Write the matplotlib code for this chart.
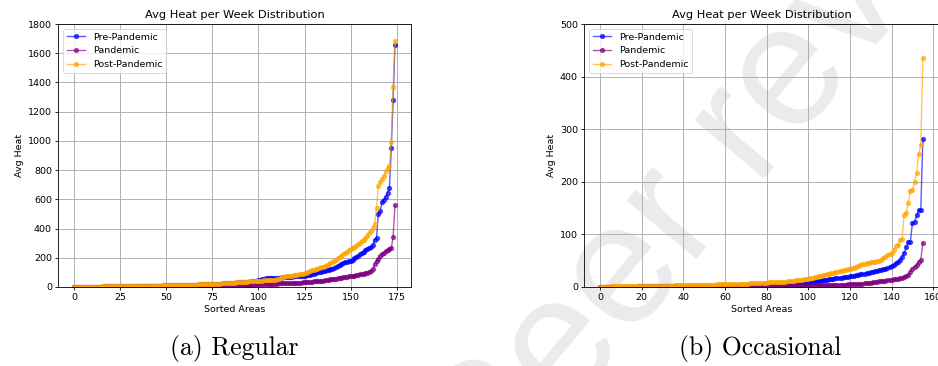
import matplotlib
matplotlib.use("Agg")
import matplotlib.pyplot as plt
import numpy as np

# ---------------- data ----------------
series_names = ["Pre-Pandemic", "Pandemic", "Post-Pandemic"]
series_colors = ["blue", "purple", "orange"]

# (a) Regular: 175 sorted areas
regular_pre = [
    0.3, 0.5, 0.7, 0.9, 1.1, 1.3, 1.5, 1.7, 1.9, 2.1,
    2.3, 2.5, 2.7, 2.9, 3.1, 3.3, 3.5, 3.7, 3.9, 4.1,
    4.3, 4.5, 4.7, 4.9, 5.1, 5.3, 5.5, 5.7, 5.9, 6.1,
    6.3, 6.5, 6.7, 6.9, 7.1, 7.3, 7.5, 7.7, 7.9, 8.1,
    8.3, 8.5, 8.7, 8.9, 9.1, 9.3, 9.5, 9.7, 10, 10.3,
    10.6, 10.9, 11.2, 11.5, 11.8, 12.1, 12.4, 12.7, 13, 13.3,
    13.6, 14, 14.4, 14.8, 15.2, 15.6, 16, 16.5, 17, 17.5,
    18, 18.5, 19, 19.5, 20, 20.5, 21, 21.5, 22, 22.5,
    23, 23.5, 24, 25, 26, 27, 28, 29, 30, 31,
    32, 33, 34, 35, 36, 37, 38, 40, 42, 44,
    46, 48, 52, 56, 59, 61, 62, 62.5, 63, 63.5,
    64, 64.5, 65, 66, 67, 68, 69, 70, 71, 72,
    73, 74, 75, 76, 77, 78, 79, 80, 82, 86,
    92, 97, 100, 102, 104, 107, 110, 114, 118, 122,
    126, 130, 136, 142, 150, 158, 164, 168, 172, 176,
    180, 188, 196, 205, 214, 224, 233, 242, 250, 258,
    268, 275, 285, 325, 335, 500, 520, 580, 597, 617,
    645, 675, 952, 1283, 1654,
]
regular_pan = [
    0.1, 0.2, 0.3, 0.4, 0.5, 0.6, 0.7, 0.8, 0.9, 1.0,
    1.1, 1.2, 1.3, 1.4, 1.5, 1.6, 1.7, 1.8, 1.9, 2.0,
    2.1, 2.2, 2.3, 2.4, 2.5, 2.6, 2.7, 2.8, 2.9, 3.0,
    3.1, 3.2, 3.3, 3.4, 3.5, 3.6, 3.7, 3.8, 3.9, 4.0,
    4.1, 4.2, 4.3, 4.4, 4.5, 4.6, 4.7, 4.8, 4.9, 5.0,
    5.1, 5.2, 5.3, 5.4, 5.5, 5.6, 5.7, 5.8, 5.9, 6.0,
    6.2, 6.4, 6.6, 6.8, 7.0, 7.2, 7.4, 7.6, 7.8, 8.0,
    8.2, 8.4, 8.6, 8.8, 9.0, 9.2, 9.4, 9.6, 9.8, 10,
    10.3, 10.6, 10.9, 11.2, 11.5, 11.8, 12.1, 12.4, 12.7, 13,
    13.5, 14, 14.5, 15, 15.5, 16, 16.5, 17, 17.5, 18,
    18.5, 19, 19.5, 20, 20.5, 21, 21.5, 22, 22.5, 23,
    23.5, 24, 24.5, 25, 25.5, 26, 26.5, 27, 27.5, 28,
    28.5, 29, 29.5, 30, 31, 32, 33, 34, 35, 36,
    38, 39, 40, 41, 42, 44, 46, 48, 50, 52,
    54, 56, 58, 60, 62, 64, 66, 68, 70, 72,
    74, 76, 78, 80, 83, 86, 89, 92, 95, 98,
    102, 108, 120, 160, 178, 195, 212, 225, 235, 245,
    253, 258, 265, 343, 558,
]
regular_post = [
    0.5, 0.8, 1.0, 1.2, 1.4, 1.6, 1.8, 2.0, 2.2, 2.4,
    2.6, 2.8, 3.0, 3.2, 3.4, 3.6, 3.8, 4.0, 4.2, 4.4,
    4.6, 4.8, 5.0, 5.2, 5.4, 5.6, 5.8, 6.0, 6.2, 6.4,
    6.6, 6.8, 7.0, 7.2, 7.4, 7.6, 7.8, 8.0, 8.2, 8.4,
    8.6, 8.8, 9.0, 9.2, 9.4, 9.6, 9.8, 10, 10.3, 10.6,
    10.9, 11.2, 11.5, 11.8, 12.1, 12.4, 12.7, 13, 13.4, 13.8,
    14.2, 14.6, 15, 15.5, 16, 16.5, 17, 17.5, 18, 18.5,
    19, 19.5, 20, 20.5, 21, 21.5, 22, 22.5, 23, 23.5,
    24, 24.5, 25, 26, 27, 28, 29, 30, 31, 32,
    33, 34, 35, 36, 37, 38, 39, 40, 41, 42,
    42, 43, 44, 45, 46, 47, 48, 49, 50, 51,
    53, 57, 62, 68, 70, 72, 74, 76, 78, 80,
    82, 84, 86, 88, 90, 94, 98, 103, 108, 113,
    118, 122, 126, 130, 134, 140, 145, 150, 158, 165,
    172, 180, 188, 196, 205, 215, 224, 232, 240, 250,
    258, 266, 275, 284, 293, 303, 313, 325, 338, 352,
    368, 385, 405, 430, 540, 690, 720, 740, 760, 795,
    812, 830, 990, 1370, 1687,
]

# (b) Occasional: 156 sorted areas
occasional_pre = [
    0.3, 0.35, 0.4, 0.45, 0.5, 0.55, 0.6, 0.65, 0.7, 0.75,
    0.8, 0.82, 0.84, 0.86, 0.88, 0.9, 0.92, 0.94, 0.96, 0.98,
    1.0, 1.02, 1.04, 1.06, 1.08, 1.1, 1.12, 1.14, 1.16, 1.18,
    1.2, 1.22, 1.24, 1.26, 1.28, 1.3, 1.32, 1.34, 1.36, 1.38,
    1.4, 1.42, 1.44, 1.46, 1.48, 1.5, 1.52, 1.54, 1.56, 1.58,
    1.6, 1.62, 1.64, 1.66, 1.68, 1.7, 1.72, 1.74, 1.76, 1.78,
    1.8, 1.82, 1.84, 1.86, 1.88, 1.9, 1.92, 1.94, 1.96, 1.98,
    2.0, 2.05, 2.1, 2.15, 2.2, 2.25, 2.3, 2.35, 2.4, 2.45,
    2.5, 2.55, 2.6, 2.65, 2.7, 2.75, 2.8, 2.85, 2.9, 2.95,
    3.0, 3.3, 3.6, 4.0, 4.5, 5.0, 5.5, 6.0, 6.5, 7.0,
    7.5, 8, 9, 10, 11, 11.5, 12, 13, 13.5, 14,
    15, 15.5, 16, 16.5, 17, 17.5, 18, 18.5, 19, 19.5,
    20, 20.5, 21, 22, 23, 24, 25, 25.5, 26, 27,
    28, 29, 30, 31, 32, 33, 34, 35, 36, 38,
    40, 42, 45, 47, 51, 57, 64, 76, 85, 86,
    122, 124, 136, 146, 147, 282,
]
occasional_pan = [
    0.10, 0.12, 0.14, 0.16, 0.18, 0.20, 0.22, 0.24, 0.26, 0.28,
    0.30, 0.32, 0.34, 0.36, 0.38, 0.40, 0.42, 0.44, 0.46, 0.48,
    0.50, 0.52, 0.54, 0.56, 0.58, 0.60, 0.62, 0.64, 0.66, 0.68,
    0.70, 0.72, 0.74, 0.76, 0.78, 0.80, 0.82, 0.84, 0.86, 0.88,
    0.90, 0.92, 0.94, 0.96, 0.98, 1.0, 1.02, 1.04, 1.06, 1.08,
    1.10, 1.12, 1.14, 1.16, 1.18, 1.2, 1.22, 1.24, 1.26, 1.28,
    1.3, 1.32, 1.34, 1.36, 1.38, 1.4, 1.42, 1.44, 1.46, 1.48,
    1.5, 1.52, 1.54, 1.56, 1.58, 1.6, 1.62, 1.64, 1.66, 1.68,
    1.7, 1.73, 1.76, 1.79, 1.82, 1.85, 1.88, 1.91, 1.94, 1.97,
    2.0, 2.05, 2.1, 2.15, 2.2, 2.25, 2.3, 2.35, 2.4, 2.45,
    2.5, 2.6, 2.7, 2.8, 2.9, 3.0, 3.1, 3.2, 3.3, 3.4,
    3.5, 3.6, 3.7, 3.8, 3.9, 4.0, 4.2, 4.4, 4.6, 4.8,
    5.0, 5.2, 5.4, 5.6, 5.8, 6.0, 6.5, 7.0, 7.5, 8.0,
    8.5, 9, 9.5, 10, 10.5, 11, 11.5, 12, 13, 13.5,
    14, 14.5, 15, 16, 17, 18, 19, 20, 22, 29,
    35, 38, 41, 48, 51, 84,
]
occasional_post = [
    0.5, 0.6, 0.7, 0.8, 0.9, 1.0, 1.1, 1.2, 1.3, 1.4,
    1.5, 1.55, 1.6, 1.65, 1.7, 1.75, 1.8, 1.85, 1.9, 1.95,
    2.0, 2.05, 2.1, 2.15, 2.2, 2.25, 2.3, 2.35, 2.4, 2.45,
    2.5, 2.57, 2.64, 2.71, 2.78, 2.85, 2.92, 3.0, 3.07, 3.14,
    3.2, 3.3, 3.4, 3.5, 3.6, 3.7, 3.8, 3.9, 4.0, 4.1,
    4.2, 4.3, 4.4, 4.5, 4.6, 4.7, 4.8, 4.9, 5.0, 5.1,
    5.2, 5.3, 5.4, 5.5, 5.6, 5.7, 5.8, 5.9, 6.0, 6.2,
    6.4, 6.6, 6.8, 7.0, 7.2, 7.4, 7.6, 7.8, 8.0, 8.2,
    8.4, 8.6, 8.8, 9.0, 9.2, 9.4, 9.6, 9.8, 10.0, 10.2,
    10.5, 11, 11.5, 12, 12.5, 13, 13.5, 14, 14.5, 15,
    16, 17, 18, 18.5, 19, 20, 21, 22, 23, 24,
    25, 26, 27, 28, 29, 30, 31, 32, 33, 34,
    35, 36, 37, 38, 40, 41, 43, 44, 45, 46,
    47, 48, 48, 49, 50, 52, 55, 57, 60, 62,
    64, 70, 78, 80, 89, 92, 137, 141, 160, 182,
    185, 200, 217, 252, 270, 435,
]

panels = [
    ("(a) Regular", [regular_pre, regular_pan, regular_post], 1800, 200),
    ("(b) Occasional", [occasional_pre, occasional_pan, occasional_post], 500, 100),
]

# ---------------- figure ----------------
W, H = 938, 366
fig = plt.figure(figsize=(W / 100, H / 100), dpi=100)

# watermark (behind the plots)
fig.text(492 / W, 1 - 503 / H, "Peer review", rotation=50, rotation_mode="anchor",
         ha="left", va="baseline", fontsize=124, family="Liberation Sans",
         color="#ebebeb", zorder=-10)

FS = 6.8
axes_px = [(58, 411), (584, 939)]
top_px, bot_px = 24, 287

for (caption, series, ymax, ystep), (l, r) in zip(panels, axes_px):
    ax = fig.add_axes([l / W, 1 - bot_px / H, (r - l) / W, (bot_px - top_px) / H])
    ax.set_facecolor("none")
    for name, col, vals in zip(series_names, series_colors, series):
        x = np.arange(len(vals))
        ax.plot(x, vals, marker="o", markersize=2.8, linewidth=1.0,
                color=col, alpha=0.65, label=name)
    ax.set_ylim(0, ymax)
    ax.set_yticks(np.arange(0, ymax + 1, ystep))
    ax.grid(True, color="#b0b0b0", linewidth=0.7)
    ax.set_title("Avg Heat per Week Distribution", fontsize=8.2, pad=4)
    ax.set_xlabel("Sorted Areas", fontsize=FS, labelpad=2)
    ax.set_ylabel("Avg Heat", fontsize=FS, labelpad=3)
    ax.tick_params(labelsize=FS, length=2.4, width=0.6, pad=2)
    for s in ax.spines.values():
        s.set_linewidth(0.6)
    leg = ax.legend(loc="upper left", fontsize=FS, frameon=True,
                    handlelength=2.0, borderpad=0.4, labelspacing=0.5)
    leg.get_frame().set_linewidth(0.6)
    cx = (l + min(r, 937)) / 2 / W
    fig.text(cx, 1 - 349 / H, caption, ha="center", va="center",
             fontsize=18.5, family="cmr10")

fig.savefig("out.png", dpi=100)
